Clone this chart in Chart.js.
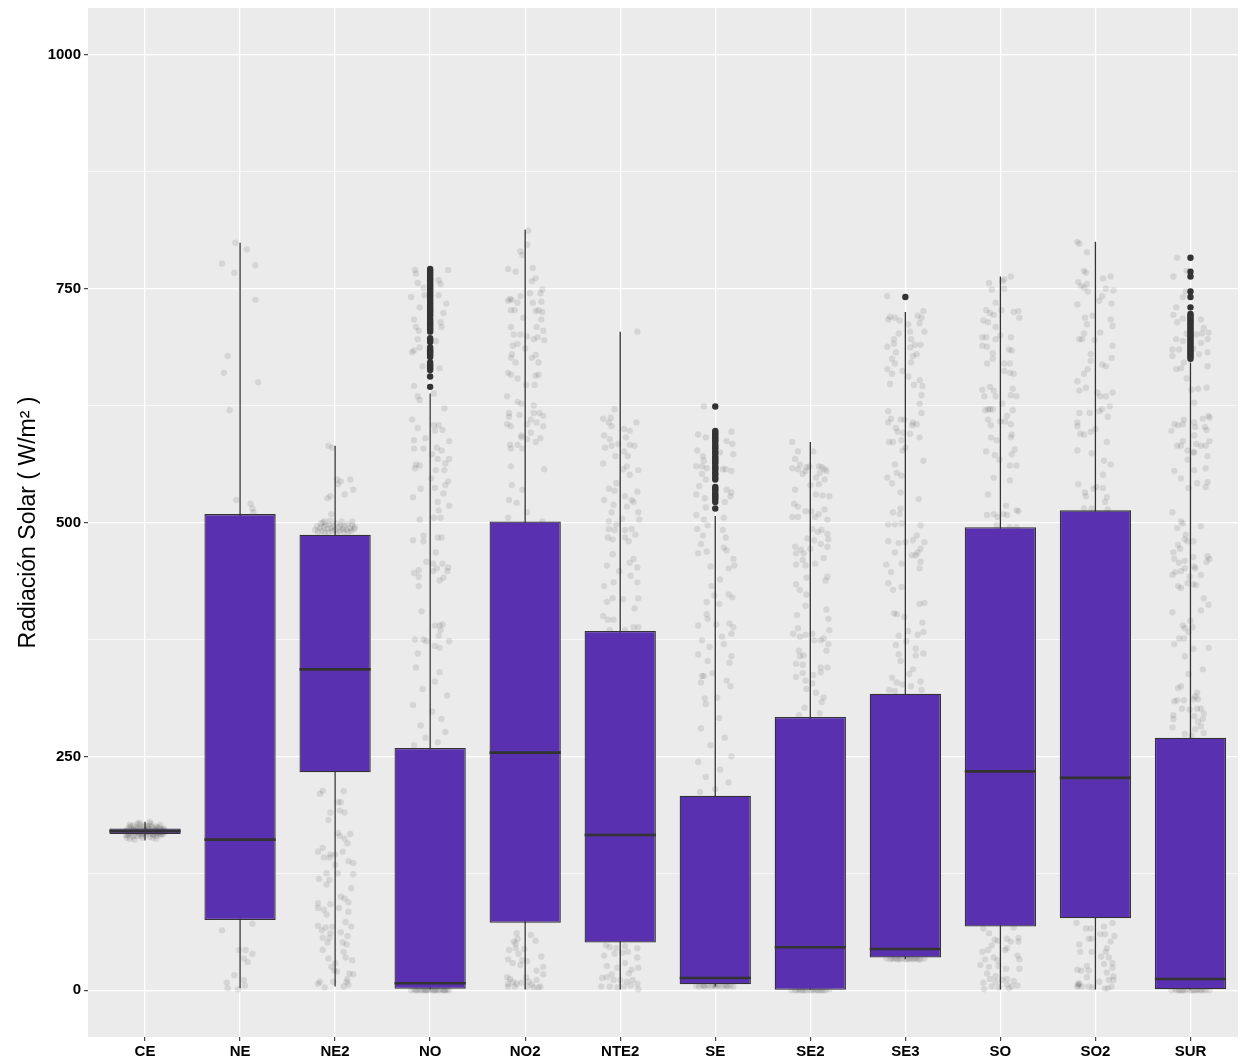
<!DOCTYPE html>
<html>
<head>
<meta charset="utf-8">
<script src="https://cdn.jsdelivr.net/npm/chart.js@4.4.1/dist/chart.umd.min.js"></script>
<style>
  html, body { margin: 0; padding: 0; background: #ffffff; }
  canvas { display: block; }
</style>
</head>
<body>
<canvas id="chart" width="1243" height="1057"></canvas>
<script>
// Stations (x categories)
const categories = ['CE', 'NE', 'NE2', 'NO', 'NO2', 'NTE2', 'SE', 'SE2', 'SE3', 'SO', 'SO2', 'SUR'];

// Box-plot summaries per station, W/m²
const lowerWhisker = [160, 2, 4, 0, 0, 0, 4, 0, 33, 0, 0, 0];
const q1           = [167, 75, 233, 1.5, 72, 51, 6.4, 0.5, 35, 68, 77, 1];
const median       = [170, 161, 343, 7.5, 254, 166, 13, 46, 44, 234, 227, 12];
const q3           = [173, 509, 487, 259, 501, 384, 208, 292, 317, 495, 513, 270];
const upperWhisker = [180, 799, 582, 638, 813, 704, 507, 586, 725, 763, 800, 671];

// Y axis ticks
const yTicksMajor = [0, 250, 500, 750, 1000];
const yTicksMinor = [125, 375, 625, 875];

// Outliers beyond the whiskers
const outliersNO = [771,769,767,765,763,761,759,757,755,753,751,749,747,745,743,741,739,737,735,733,731,729,727,725,723,721,718,716,714,712,710,708,706,704,697,695,693,687,685,683,681,679,677,671,669,667,665,663,656,645];
const outliersSE = [624,598,596,594,592,590,588,586,583,581,579,576,574,571,569,567,565,563,560,558,556,553,551,548,546,538,536,534,531,529,527,525,522,515];
const outliersSE3 = [741];
const outliersSUR = [783,768,763,747,741,730,723,721,719,717,715,713,711,709,707,705,703,701,699,697,695,693,691,689,687,685,683,681,679,677,675];

// Individual observations: [horizontal jitter offset, value]
const jitterCE = [[-0.2,170],[-0.18,166],[-0.17,174],[-0.15,168],[-0.14,172],[-0.13,164],[-0.12,176],[-0.1,169],[-0.09,171],[-0.08,165],[-0.07,173],[-0.06,167],[-0.05,177],[-0.04,170],[-0.03,163],[-0.02,174],[-0.01,168],[0,171],[0.01,166],[0.02,175],[0.03,169],[0.04,172],[0.05,164],[0.06,178],[0.07,170],[0.08,167],[0.09,173],[0.1,169],[0.11,175],[0.12,165],[0.13,171],[0.14,168],[0.15,174],[0.16,166],[0.17,172],[0.18,170],[0.19,167],[0.2,173],[-0.19,163],[-0.16,177],[0.21,169],[-0.11,161],[0.05,180],[-0.06,179],[0.12,162],
  [-0.19,171],[-0.17,168],[-0.15,175],[-0.13,170],[-0.11,166],[-0.09,174],[-0.07,169],[-0.05,172],[-0.03,167],[-0.01,176],[0.01,170],[0.03,173],[0.05,168],[0.07,175],[0.09,166],[0.11,171],[0.13,174],[0.15,169],[0.17,167],[0.19,172],[-0.2,166],[-0.12,172],[-0.04,165],[0.04,176],[0.12,168],[0.2,170],[-0.08,178],[0.08,163],[0.16,177],[-0.16,162]];
const jitterNE = [[-0.05,799],[0.07,792],[-0.19,777],[0.16,775],[-0.06,767],[0.16,738],[-0.13,678],[-0.17,660],[0.19,650],[-0.11,620],[-0.04,524],[0.11,520],[0.13,515],[0.14,511],[-0.19,64],[0.13,71],[-0.01,43],[0.06,43],[0.13,39],[0.04,34],[0.08,30],[-0.06,16],[-0.14,8],[-0.13,2],[0.04,11],[0.05,5],[-0.02,1]];
const jitterNE2 = [[-0.21,492],[-0.19,496],[-0.18,490],[-0.16,494],[-0.15,499],[-0.14,491],[-0.12,495],[-0.11,489],[-0.1,497],[-0.08,493],[-0.07,490],[-0.06,498],[-0.04,494],[-0.03,491],[-0.02,496],[0,492],[0.01,499],[0.02,489],[0.04,495],[0.05,491],[0.06,497],[0.08,493],[0.09,490],[0.1,496],[0.12,492],[0.13,498],[0.14,490],[0.16,494],[0.17,491],[0.18,497],[0.2,493],[0.21,495],[-0.13,500],[0.07,501],[-0.05,502],
  [0.02,546],[0.06,544],[0.16,546],[0.03,541],[0.1,530],[0.19,535],[-0.08,526],[-0.05,528],[-0.04,509],[-0.11,501],[0.18,501],[-0.07,582],[-0.03,580],
  [-0.16,210],[-0.13,213],[0.09,213],[0.03,201],[0.06,201],[-0.05,190],[0.05,192],[0.1,190],[-0.07,182],[0.03,168],[0.16,167],[0.05,165],[0.1,162],[0.13,157],[-0.18,148],[-0.13,152],[-0.05,145],[0,145],[0.08,148],[-0.12,142],[-0.06,142],[0.14,138],[0.19,136],[0,134],[-0.09,125],[0.03,125],[0.19,124],[-0.17,119],[-0.06,118],[-0.09,113],[0.17,109],[0.06,100],[0.1,98],[-0.18,93],[-0.05,92],[0.04,88],[0.14,94],[-0.18,88],[-0.12,86],[0.14,84],[-0.09,81],[0.11,73],[-0.18,69],[-0.1,67],[-0.03,68],[0.06,62],[0.17,68],[-0.14,64],[0.13,58],[-0.05,61],[-0.13,56],[-0.08,51],[-0.06,56],[0.08,51],[0.12,49],[-0.13,43],[0.09,41],[-0.07,34],[0.11,35],[0.18,32],[0,29],[-0.04,25],[-0.01,21],[0.02,20],[0.15,18],[0.19,17],[0.13,12],[0.12,9],[-0.16,9],[-0.18,7],[-0.02,9],[-0.11,3],[0.09,4],[0.14,6]];
const jitterNO = [[-0.16,770],[-0.15,766],[0.19,770],[-0.13,756],[-0.07,751],[0.09,759],[0.11,755],[-0.2,741],[-0.06,743],[0.09,743],[0.17,734],[-0.11,730],[0.14,724],[-0.17,717],[0.11,714],[-0.15,709],[-0.12,705],[0.12,709],[-0.13,696],[0.06,694],[-0.11,687],[-0.17,684],[-0.19,682],[-0.08,667],[0.1,665],[-0.17,646],[-0.13,635],[-0.11,631],[0.04,638],[0.15,622],[-0.19,610],[-0.13,601],[0.04,604],[0.09,604],[0.13,599],[0.05,598],[-0.17,588],[-0.05,590],[0.2,587],[-0.17,579],[-0.07,579],[0.07,580],[0.12,577],[0.02,573],[-0.15,562],[-0.11,561],[-0.16,558],[0.08,568],[0.16,563],[0.2,568],[0.06,556],[0.15,556],[0.01,547],[0.19,544],[-0.1,536],[0.05,537],[0.16,540],[-0.18,527],[0.14,531],[0.08,522],[0.2,518],[0.09,513],[-0.11,503],[0.04,505],[0.11,505],[-0.07,486],[-0.18,481],[-0.07,480],[0.08,484],[0.12,484],[0.06,468],[-0.04,458],[0.03,456],[0.13,456],[-0.17,446],[-0.12,449],[-0.12,442],[0.19,452],[0.18,448],[0.07,451],[0.03,448],[0.1,438],[0.14,441],[-0.12,432],[-0.09,405],[0.05,390],[0.1,390],[0.13,391],[0.11,385],[0.09,379],[-0.16,375],[-0.07,375],[-0.04,373],[0.05,368],[0.1,366],[0.2,373],[-0.13,360],[-0.15,345],[0.1,340],[0.05,330],[-0.08,322],[0.18,315],[-0.18,305],[0.02,298],[0.12,290],[-0.1,283],[0.16,276],[-0.05,270],[0.08,265],[-0.17,262],
  [-0.2,0],[-0.17,1],[-0.14,0],[-0.12,1],[-0.1,0],[-0.08,0],[-0.06,1],[-0.04,0],[-0.02,0],[0,1],[0.02,0],[0.04,0],[0.06,1],[0.08,0],[0.1,0],[0.12,1],[0.14,0],[0.16,0],[0.18,1],[0.2,0],[-0.15,0],[-0.05,0],[0.05,0],[0.15,0]];
const jitterNO2 = [[0.02,797],[-0.03,786],[-0.18,771],[-0.1,768],[0.08,772],[0.11,761],[0.07,758],[-0.16,739],[-0.18,737],[-0.14,738],[-0.08,735],[-0.05,742],[0.05,745],[0.16,745],[0.18,749],[0.08,735],[0.17,736],[-0.15,727],[-0.11,727],[0.11,726],[0.14,727],[0.18,725],[-0.02,719],[0.17,717],[0.12,709],[-0.15,709],[0.19,705],[-0.12,701],[-0.05,701],[0.02,699],[0.09,696],[0.13,698],[0.2,695],[-0.13,689],[-0.08,691],[0,686],[0.07,676],[0.11,679],[-0.14,680],[-0.15,676],[0.14,671],[-0.1,671],[-0.18,660],[-0.15,658],[-0.08,654],[0.11,657],[0.14,658],[0.01,647],[0.1,647],[-0.19,635],[-0.08,629],[-0.04,627],[0.09,625],[-0.17,617],[-0.17,613],[-0.06,615],[0.09,617],[0.15,617],[0.19,614],[0.06,610],[0.02,605],[-0.19,605],[-0.15,603],[0.12,607],[0.19,603],[0.06,596],[-0.04,593],[-0.04,591],[0.02,589],[0.11,586],[0.16,590],[-0.16,583],[-0.08,583],[-0.15,579],[-0.03,579],[-0.15,560],[0.2,557],[-0.14,540],[-0.03,535],[-0.17,524],[-0.09,521],[0.02,511],[-0.18,505],[0.18,501],[0.03,812],[-0.05,790],
  [-0.09,61],[-0.12,52],[-0.08,55],[-0.1,50],[0.06,59],[0.11,53],[-0.17,43],[-0.1,45],[-0.01,44],[-0.18,33],[-0.07,39],[-0.03,32],[0.02,31],[-0.13,29],[-0.05,27],[0.17,36],[0.19,25],[0.12,21],[-0.19,14],[-0.16,12],[-0.13,9],[-0.09,7],[-0.04,8],[0.04,9],[0.07,6],[0.12,11],[0.16,4],[-0.18,4],[-0.11,4],[0.02,4],[0.09,3],[0.14,3],[-0.18,7],[0.01,14],[0.19,17]];
const jitterNTE2 = [[0.18,704],[-0.06,621],[-0.18,611],[-0.1,612],[-0.12,607],[-0.09,603],[0.04,600],[0.1,598],[0.17,607],[-0.17,593],[-0.11,589],[-0.16,580],[-0.09,582],[-0.02,584],[0.06,591],[0.1,583],[0.15,582],[-0.05,571],[0.04,576],[0.08,571],[-0.18,563],[0.07,560],[0.03,557],[0.1,551],[0.19,556],[-0.04,542],[-0.12,536],[-0.06,534],[0.18,533],[0.05,528],[0.12,524],[0.14,522],[-0.17,524],[-0.07,519],[0.07,517],[-0.09,511],[0.19,511],[0.02,504],[-0.12,501],[-0.04,498],[0.2,503],[-0.12,493],[-0.06,492],[0.05,492],[0.12,493],[-0.13,484],[-0.08,482],[0.05,484],[0.16,487],[0.09,480],[-0.08,466],[0.14,461],[-0.14,454],[0.1,457],[0.18,452],[-0.01,448],[-0.17,432],[-0.07,436],[0.11,443],[0.18,436],[-0.14,415],[-0.08,419],[0.03,418],[0.19,419],[-0.18,400],[-0.13,396],[-0.07,396],[0.15,408],[-0.11,385],[0.05,385],[0.14,388],[0.19,388],
  [-0.15,48],[-0.11,46],[-0.04,45],[0.05,47],[0.08,41],[0.18,45],[-0.17,37],[-0.06,39],[0.02,40],[0.18,35],[-0.14,26],[-0.03,24],[0.05,29],[0.12,22],[0.19,24],[-0.19,13],[-0.14,14],[-0.07,11],[0,11],[0.07,9],[0.13,11],[0.18,7],[-0.2,4],[-0.11,4],[-0.03,3],[0.04,4],[0.11,5],[0.19,1],[-0.09,17],[0.09,18]];
const jitterSE = [[-0.12,624],[-0.18,594],[-0.1,591],[-0.19,577],[-0.13,571],[0.17,597],[0.12,587],[0.18,584],[0.19,573],[-0.12,566],[0.05,575],[-0.2,560],[-0.14,560],[-0.09,558],[0.08,557],[0.17,555],[0.11,557],[-0.14,552],[-0.1,546],[-0.17,539],[-0.2,530],[-0.11,526],[0.16,528],[0.12,535],[0.17,532],[0.1,522],[-0.1,516],[-0.2,508],[-0.12,503],[0.09,505],[-0.19,493],[-0.13,486],[-0.08,497],[0.08,492],[0.11,484],[-0.15,477],[-0.18,467],[-0.09,469],[0.09,473],[0.12,470],[0.19,461],[0.14,451],[-0.05,453],[0.2,454],[-0.04,432],[0.05,439],[-0.09,415],[-0.01,422],[0.04,413],[0.14,423],[0.18,420],[-0.18,390],[-0.09,402],[-0.08,397],[0.01,391],[0.15,392],[0.19,388],[-0.14,374],[0.07,378],[0.09,370],[0.17,381],[-0.06,367],[-0.18,359],[-0.08,352],[0.17,357],[0.15,350],[-0.14,336],[-0.12,336],[-0.03,339],[-0.15,329],[0.12,331],[0.16,325],[-0.11,312],[-0.1,306],[0.02,313],[0.04,291],[-0.15,280],[0.1,270],[-0.05,262],[0.17,250],[-0.18,244],[0.05,236],[-0.1,228],[0.14,222],[0,215],[-0.16,212],
  [-0.2,5],[-0.17,4],[-0.14,5],[-0.11,4],[-0.08,5],[-0.05,4],[-0.02,5],[0.01,4],[0.04,5],[0.07,4],[0.1,5],[0.13,4],[0.16,5],[0.19,4],[-0.12,5],[0,5],[0.12,5]];
const jitterSE2 = [[-0.19,586],[-0.13,576],[0.03,576],[-0.16,568],[-0.11,562],[-0.04,559],[-0.19,558],[-0.13,557],[-0.05,555],[-0.01,560],[0.09,560],[0.12,559],[0.17,555],[0.15,557],[-0.08,552],[0.06,548],[0.1,553],[0.15,546],[-0.16,535],[0,540],[0.09,541],[0.06,530],[0.13,529],[0.2,528],[-0.17,520],[-0.13,517],[-0.05,512],[0.01,512],[0.15,514],[0.05,506],[0.09,509],[0.18,503],[-0.19,506],[-0.13,506],[0.02,493],[0.08,490],[0.12,492],[0.18,488],[0.19,482],[-0.03,483],[0.04,481],[0.11,477],[0.18,474],[-0.16,474],[-0.1,471],[-0.15,467],[-0.07,467],[0,472],[-0.08,460],[-0.15,455],[-0.05,454],[0.05,456],[0.14,462],[-0.04,441],[0.18,442],[0.16,438],[-0.15,434],[-0.11,428],[-0.04,423],[-0.05,411],[0.17,407],[0.19,397],[0.2,385],[-0.14,401],[-0.13,387],[-0.18,381],[-0.11,378],[-0.05,380],[0.02,381],[0.04,374],[0.11,374],[0.14,376],[0.19,370],[-0.12,363],[-0.11,357],[-0.07,358],[0.17,363],[-0.15,349],[-0.08,348],[0.11,345],[0.18,345],[-0.08,339],[0.03,337],[-0.15,335],[-0.05,331],[0.11,340],[0.02,328],[-0.04,322],[0.06,318],[0.14,313],[0.12,308],[-0.06,302],[0.1,296],[-0.12,294],
  [-0.2,0],[-0.16,0],[-0.12,1],[-0.08,0],[-0.04,0],[0,0],[0.04,1],[0.08,0],[0.12,0],[0.16,0],[0.2,1],[-0.14,0],[-0.06,0],[0.06,0],[0.14,0],[-0.1,0],[0.02,0],[0.1,0]];
const jitterSE3 = [[-0.19,742],[-0.18,717],[-0.16,720],[-0.11,719],[-0.06,716],[0.13,721],[0.19,726],[0.17,719],[0.15,713],[0.2,704],[0.03,712],[0.05,704],[-0.07,702],[-0.12,696],[-0.19,688],[-0.12,691],[0.06,696],[0.05,687],[0.1,690],[0.16,690],[0.12,680],[0.08,678],[-0.1,682],[-0.14,675],[-0.11,670],[-0.19,664],[-0.14,659],[-0.03,662],[0.06,671],[0.03,656],[0.15,652],[0.18,646],[0.09,647],[-0.16,648],[0.17,636],[0.15,627],[0.17,617],[-0.18,619],[-0.15,611],[-0.18,607],[-0.05,610],[-0.1,601],[-0.01,610],[0.08,607],[0.07,604],[0.12,605],[0.05,595],[0.15,591],[-0.02,596],[-0.08,597],[-0.17,586],[-0.13,586],[-0.04,588],[0,580],[-0.03,577],[0.19,566],[-0.11,562],[-0.09,553],[-0.04,550],[-0.19,548],[-0.14,542],[-0.05,532],[0.14,525],[-0.13,511],[-0.06,509],[-0.05,515],[-0.18,498],[-0.11,498],[-0.04,499],[0.16,497],[-0.18,480],[-0.07,478],[-0.11,468],[0,479],[0.08,481],[0.12,486],[0.2,479],[0.16,472],[0.13,468],[0.11,465],[-0.2,455],[-0.15,447],[-0.04,456],[0.07,465],[0.16,458],[0.15,451],[-0.18,435],[-0.13,428],[-0.04,431],[-0.12,403],[-0.09,402],[-0.01,399],[0.15,413],[0.2,414],[0.18,393],[0.03,384],[-0.07,379],[0.13,380],[0.19,383],[-0.1,369],[0.01,373],[0.11,365],[0.11,358],[0.19,360],[-0.07,359],[-0.05,352],[0.08,343],[0.04,338],[-0.14,334],[-0.09,329],[0.06,325],[0.16,330],[-0.03,327],[-0.17,321],[-0.11,320],[0.17,321],
  [-0.2,34],[-0.16,33],[-0.12,34],[-0.08,33],[-0.04,34],[0,33],[0.04,34],[0.08,33],[0.12,34],[0.16,33],[0.2,34],[-0.14,34],[-0.06,33],[0.06,34],[0.14,33],[-0.1,34],[0.02,33],[0.1,34]];
const jitterSO = [[-0.12,756],[-0.09,749],[-0.05,735],[0.02,758],[0.04,750],[0.11,763],[0.04,760],[-0.15,727],[-0.11,724],[-0.07,722],[0.01,727],[0.14,725],[0.19,726],[0.2,719],[-0.18,716],[-0.13,714],[-0.05,709],[-0.19,698],[-0.15,698],[-0.05,696],[0,700],[0.11,698],[-0.19,689],[-0.14,688],[-0.08,681],[-0.14,670],[-0.08,675],[0.04,670],[0.1,670],[0.09,685],[0.12,684],[0.14,659],[0.1,660],[0.04,662],[-0.07,641],[-0.19,642],[-0.17,635],[-0.11,645],[-0.05,635],[0.13,643],[0.11,636],[0.17,635],[-0.13,621],[-0.16,620],[-0.11,621],[-0.08,621],[0.02,627],[0.07,614],[0.13,620],[-0.13,610],[-0.1,604],[0,608],[0.05,608],[0.11,605],[0.12,594],[0.11,591],[-0.1,591],[-0.04,588],[0.15,578],[-0.15,576],[-0.06,572],[-0.01,567],[0.12,573],[0.1,561],[0.17,561],[-0.07,548],[0.1,545],[-0.13,530],[0.06,518],[0.19,512],[-0.14,508],[-0.07,509],[-0.03,506],[0.03,509],[0.07,508],[0.17,513],[-0.04,497],[0.17,495],[0.1,495],
  [-0.18,66],[-0.12,61],[-0.06,54],[-0.03,53],[0.07,55],[0.11,52],[0.14,67],[0.19,56],[0.19,52],[-0.09,48],[-0.13,43],[-0.19,41],[0.05,43],[0.07,45],[0.18,37],[-0.16,33],[-0.07,35],[-0.03,32],[0.2,33],[-0.21,27],[-0.12,25],[-0.02,26],[0.06,23],[0.2,23],[-0.14,18],[-0.05,15],[0.07,12],[0.14,10],[-0.18,8],[-0.11,12],[0.02,11],[0.07,6],[0.18,5],[-0.09,4],[-0.02,3],[0.09,2],[-0.17,1],[0.12,4],[-0.05,9]];
const jitterSO2 = [[-0.19,800],[-0.17,798],[-0.09,789],[-0.12,769],[-0.1,767],[-0.18,757],[-0.15,753],[-0.09,755],[-0.12,751],[-0.08,747],[0.08,761],[0.16,763],[0.11,750],[0.19,748],[0.04,737],[0.07,742],[0.17,734],[-0.19,733],[-0.11,719],[-0.03,721],[0.16,717],[0.18,710],[-0.09,712],[-0.12,702],[-0.17,696],[-0.14,696],[-0.01,695],[0.05,703],[0.18,689],[-0.05,680],[-0.05,673],[0.17,676],[0.07,669],[0.11,667],[-0.08,664],[-0.12,659],[-0.19,651],[-0.17,641],[-0.1,644],[0.02,639],[0.05,635],[0.11,635],[0.18,639],[0.15,624],[0.07,621],[0.04,619],[-0.17,617],[-0.06,617],[0.13,613],[-0.19,607],[-0.19,603],[-0.16,595],[-0.12,594],[-0.05,597],[0,600],[0.12,586],[-0.19,577],[-0.04,574],[0.09,566],[0.16,562],[0.08,551],[-0.18,541],[-0.11,532],[-0.1,528],[-0.02,536],[0.01,538],[0.08,537],[0.12,527],[0.1,522],[-0.12,515],[-0.04,515],[0.13,514],
  [-0.2,72],[-0.1,66],[-0.05,66],[0.09,68],[0.18,72],[0.05,60],[0.1,60],[0.2,58],[-0.17,49],[-0.07,55],[-0.04,55],[0.16,52],[-0.16,41],[-0.04,41],[0.06,36],[0.12,45],[0.11,41],[0.14,35],[-0.09,26],[-0.19,22],[-0.15,21],[0.09,28],[0.18,29],[0.18,24],[-0.07,21],[0.12,19],[0.19,15],[-0.18,7],[-0.19,4],[-0.14,4],[-0.07,4],[-0.03,3],[0.1,2],[0.13,2],[0.17,4],[0.19,11],[-0.09,14],[0.14,11],[0.04,9],[-0.18,5],[-0.17,7]];
const jitterSUR = [[-0.14,783],[-0.04,769],[-0.18,763],[-0.05,747],[-0.08,741],[-0.15,730],[-0.18,722],[-0.14,714],[-0.08,718],[0.11,717],[0.14,708],[0.19,703],[0.12,702],[0.06,701],[-0.04,702],[-0.15,696],[-0.08,694],[-0.12,685],[-0.19,685],[-0.19,678],[0.03,686],[0.11,692],[0.18,696],[0.18,682],[0.09,680],[-0.07,671],[-0.15,664],[-0.1,665],[0.18,667],[-0.04,654],[0.01,642],[0.08,643],[0.17,644],[0.04,628],[0.19,614],[0.2,612],[0.13,611],[-0.07,610],[-0.17,605],[-0.13,604],[-0.08,605],[0.04,607],[0.05,602],[0.15,602],[0.17,599],[-0.2,598],[0.04,593],[-0.08,587],[-0.14,582],[-0.1,582],[0.06,584],[0.11,582],[0.16,582],[0.2,587],[-0.03,577],[0.03,575],[0.04,575],[0.18,571],[-0.03,567],[-0.17,555],[0.04,556],[0.16,558],[-0.1,547],[0.07,542],[0.18,543],[-0.02,537],[0.16,538],[-0.19,511],[-0.1,501],[-0.08,499],[-0.14,494],[0.11,496],[-0.05,487],[-0.06,482],[-0.03,480],[0.03,480],[-0.13,476],[-0.11,472],[-0.18,468],[-0.17,461],[-0.12,457],[-0.06,459],[0.03,463],[0.04,453],[0.05,451],[0.18,464],[0.2,461],[0.17,458],[-0.06,451],[-0.1,448],[-0.16,447],[-0.19,444],[-0.01,442],[0.11,444],[-0.03,435],[0.03,434],[0.06,433],[-0.13,432],[-0.1,430],[0.14,419],[0.19,412],[0.11,406],[-0.19,404],[0,395],[-0.08,390],[-0.06,387],[0.02,388],[-0.02,383],[-0.12,376],[-0.07,376],[-0.17,370],[0.03,365],[0.19,366],[-0.06,357],[0.13,343],[-0.02,338],[-0.13,323],[-0.1,325],[0.07,318],[0.05,314],[0.08,311],[-0.17,309],[-0.14,310],[-0.07,310],[0.03,311],[-0.09,301],[-0.01,300],[0.07,301],[0.11,301],[0.14,296],[-0.18,294],[-0.18,290],[0.04,293],[0.13,290],[0.08,287],[0.11,282],[-0.19,281],[0.05,279],[-0.06,274],[0.14,275],[0.01,272],
  [-0.2,0],[-0.16,1],[-0.12,0],[-0.08,0],[-0.04,1],[0,0],[0.04,0],[0.08,1],[0.12,0],[0.16,0],[0.2,0],[-0.14,0],[-0.06,0],[0.06,0],[0.14,1],[-0.1,0],[0.02,0],[0.1,0]];

const jitterByStation = [jitterCE, jitterNE, jitterNE2, jitterNO, jitterNO2, jitterNTE2, jitterSE, jitterSE2, jitterSE3, jitterSO, jitterSO2, jitterSUR];
const outliersByStation = { NO: outliersNO, SE: outliersSE, SE3: outliersSE3, SUR: outliersSUR };

// ---- Build chart data ----
const idx = categories.map((_, i) => i);
const jitterPoints = [];
jitterByStation.forEach((pts, i) => pts.forEach(([dx, v]) => jitterPoints.push({ x: i + dx, y: v })));
const outlierPoints = [];
categories.forEach((c, i) => (outliersByStation[c] || []).forEach(v => outlierPoints.push({ x: i, y: v })));

const FONT = "'Liberation Sans', Arial, Helvetica, sans-serif";
const yTicksAll = yTicksMajor.concat(yTicksMinor).sort((a, b) => a - b);

// grey panel behind the grid
const panelBackground = {
  id: 'panelBackground',
  beforeDraw(chart) {
    const { ctx, chartArea: a } = chart;
    ctx.save();
    ctx.fillStyle = '#EBEBEB';
    ctx.fillRect(a.left, a.top, a.right - a.left, a.bottom - a.top);
    ctx.restore();
  }
};

new Chart(document.getElementById('chart'), {
  type: 'bar',
  data: {
    datasets: [
      { // jittered observations
        type: 'scatter', data: jitterPoints, order: 5,
        pointRadius: 3.2, pointBackgroundColor: 'rgba(0,0,0,0.09)', pointBorderWidth: 0, pointHoverRadius: 0
      },
      { // whiskers
        type: 'bar', data: idx.map(i => ({ x: i, y: [lowerWhisker[i], upperWhisker[i]] })), order: 4,
        grouped: false, maxBarThickness: 1.3, backgroundColor: '#333333', borderWidth: 0
      },
      { // boxes (Q1 - Q3)
        type: 'bar', data: idx.map(i => ({ x: i, y: [q1[i], q3[i]] })), order: 3,
        grouped: false, barPercentage: 0.75, categoryPercentage: 1,
        backgroundColor: '#5930AF', borderColor: '#333333', borderWidth: 1.3, borderSkipped: false
      },
      { // medians
        type: 'scatter', data: idx.map(i => ({ x: i, y: median[i] })), order: 2,
        pointStyle: 'line', pointRadius: 35.6, pointBorderWidth: 2.6, pointBorderColor: '#333333', pointHoverRadius: 0
      },
      { // outliers
        type: 'scatter', data: outlierPoints, order: 1,
        pointRadius: 3.2, pointBackgroundColor: '#333333', pointBorderWidth: 0, pointHoverRadius: 0
      }
    ]
  },
  options: {
    responsive: false,
    animation: false,
    events: [],
    layout: { autoPadding: false, padding: { left: 0, right: 5, top: 8, bottom: 0 } },
    plugins: { legend: { display: false }, tooltip: { enabled: false } },
    scales: {
      x: {
        type: 'linear', min: -0.6, max: 11.5, offset: false,
        afterBuildTicks: s => { s.ticks = idx.map(v => ({ value: v })); },
        afterFit: s => { s.height = 20; s.paddingLeft = 0; s.paddingRight = 0; },
        grid: { color: '#FFFFFF', lineWidth: 1.3, offset: false, drawTicks: true, tickLength: 4, tickColor: '#333333', tickWidth: 1.1 },
        border: { display: false },
        ticks: {
          autoSkip: false, maxRotation: 0, padding: 2, color: '#000000',
          font: { family: FONT, size: 15, weight: 'bold' },
          callback: v => categories[v]
        }
      },
      y: {
        type: 'linear', min: -50, max: 1050,
        afterBuildTicks: s => { s.ticks = yTicksAll.map(v => ({ value: v })); },
        afterFit: s => { s.width = 88; s.paddingTop = 0; s.paddingBottom = 0; },
        grid: {
          color: '#FFFFFF',
          lineWidth: c => (yTicksMajor.includes(c.tick && c.tick.value) ? 1.3 : 0.6),
          tickColor: c => (yTicksMajor.includes(c.tick && c.tick.value) ? '#333333' : 'rgba(0,0,0,0)'),
          tickLength: 4, tickWidth: 1.1
        },
        border: { display: false },
        ticks: {
          autoSkip: false, padding: 3, color: '#000000',
          font: { family: FONT, size: 15, weight: 'bold' },
          callback: v => (yTicksMajor.includes(v) ? String(v) : '')
        },
        title: {
          display: true, text: 'Radiación Solar ( W/m² )', color: '#000000',
          font: { family: FONT, size: 23, weight: 'normal' },
          padding: { top: 15, bottom: 0 }
        }
      }
    }
  },
  plugins: [panelBackground]
});
</script>
</body>
</html>
